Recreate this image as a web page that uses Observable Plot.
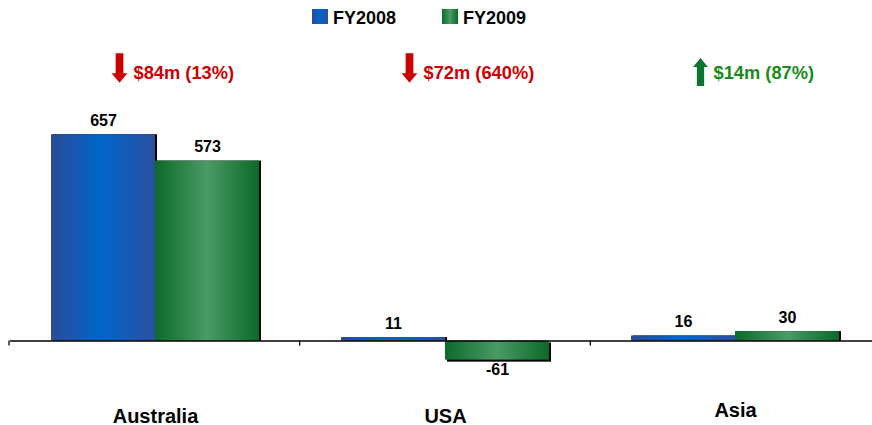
<!DOCTYPE html>
<html>
<head>
<meta charset="utf-8">
<script src="https://cdn.jsdelivr.net/npm/d3@7"></script>
<script src="https://cdn.jsdelivr.net/npm/@observablehq/plot@0.6"></script>
<style>
  html, body { margin: 0; padding: 0; background: #fff; overflow: hidden; }
  body { width: 872px; height: 425px; position: relative; font-family: "Liberation Sans", Arial, sans-serif; }
  #chart svg { max-width: none !important; display: block; }
  #legend { position: absolute; top: 9px; left: 312px; display: flex; align-items: flex-start; z-index: 2; }
  .sw { width: 16px; height: 15px; margin-right: 5px; }
  .lt { font-size: 18px; font-weight: bold; line-height: 18px; color: #000; }
</style>
</head>
<body>
<div id="legend"></div>
<div id="chart"></div>
<script>
// ---- data ----
const categories = ["Australia", "USA", "Asia"];
const series = ["FY2008", "FY2009"];
const fy2008 = [657, 11, 16];
const fy2009 = [573, -61, 30];
const changeText = ["$84m (13%)", "$72m (640%)", "$14m (87%)"];
const changeDir = ["down", "down", "up"];

const data = categories.flatMap((c, i) => [
  {cat: c, series: "FY2008", value: fy2008[i]},
  {cat: c, series: "FY2009", value: fy2009[i]}
]);
const pos = data.filter(d => d.value >= 0);
const neg = data.filter(d => d.value < 0);
const anno = categories.map((c, i) => ({cat: c, text: changeText[i], dir: changeDir[i]}));
const annoDown = anno.filter(d => d.dir === "down");
const annoUp = anno.filter(d => d.dir === "up");

// ---- legend ----
const legendColors = {
  FY2008: "linear-gradient(to right, #2b4a98, #0066cc 48%, #2b4fa0)",
  FY2009: "linear-gradient(to right, #0b6b2a, #4a9a66 50%, #0a6a28)"
};
const legend = document.getElementById("legend");
series.forEach((s, i) => {
  const sw = document.createElement("div");
  sw.className = "sw";
  sw.style.background = legendColors[s];
  const t = document.createElement("div");
  t.className = "lt";
  t.textContent = s;
  if (i === 0) t.style.marginRight = "46px";
  legend.appendChild(sw);
  legend.appendChild(t);
});

// ---- arrow symbols ----
function arrowSymbol(up) {
  const pts = [[-0.26, -1], [0.26, -1], [0.26, 0.36], [0.53, 0.36], [0, 1], [-0.53, 0.36], [-0.26, 0.36]];
  return {
    draw(ctx, size) {
      const r = Math.sqrt(size / Math.PI);
      pts.forEach(([x, y], k) => {
        const px = x * r, py = (up ? -y : y) * r;
        if (k === 0) ctx.moveTo(px, py); else ctx.lineTo(px, py);
      });
      ctx.closePath();
    }
  };
}

const W = 881, H = 425, mt = 120.7, mb = 37.4;
const font = {fontFamily: "Liberation Sans, Arial, sans-serif", fontWeight: "bold"};

const plot = Plot.plot({
  width: W, height: H,
  marginLeft: 9, marginRight: 0, marginTop: mt, marginBottom: mb,
  fx: {domain: categories, padding: 0, axis: null},
  x: {domain: series, paddingInner: 0, paddingOuter: 0.383, axis: null},
  y: {domain: [-150, 700], axis: null},
  color: {domain: series, range: ["url(#gBlue)", "url(#gGreen)"]},
  marks: [
    // shadows
    Plot.barY(pos, {fx: "cat", x: "series", y: "value", fill: "black", dx: 2}),
    Plot.barY(neg, {fx: "cat", x: "series", y: "value", fill: "black", dx: 2, dy: 2}),
    // bars
    Plot.barY(data, {fx: "cat", x: "series", y: "value", fill: "series"}),
    // baseline
    Plot.ruleY([0], {stroke: "black", strokeWidth: 1.3}),
    // value labels
    Plot.text(pos, {fx: "cat", x: "series", y: "value", text: d => String(d.value),
      lineAnchor: "bottom", dy: -9, fontSize: 16, ...font, fill: "black"}),
    Plot.text(neg, {fx: "cat", x: "series", y: "value", text: d => String(d.value),
      lineAnchor: "top", dy: 3, fontSize: 16, ...font, fill: "black"}),
    // change annotations
    Plot.dot(annoDown, {fx: "cat", frameAnchor: "top", symbol: arrowSymbol(false), r: 14.8,
      fill: "#cc0000", stroke: "none", dx: -36, dy: 67.5 - mt}),
    Plot.dot(annoUp, {fx: "cat", frameAnchor: "top", symbol: arrowSymbol(true), r: 14,
      fill: "#0a7430", stroke: "none", dx: -35, dy: 71.5 - mt}),
    Plot.text(annoDown, {fx: "cat", frameAnchor: "top", text: "text", textAnchor: "start",
      lineAnchor: "bottom", dx: -22, dy: 78.5 - mt, fontSize: 18.3, ...font, fill: "#cc0000"}),
    Plot.text(annoUp, {fx: "cat", frameAnchor: "top", text: "text", textAnchor: "start",
      lineAnchor: "bottom", dx: -22, dy: 78.5 - mt, fontSize: 18.3, ...font, fill: "#1a8a1a"}),
    // category labels
    Plot.text(categories.filter(c => c !== "Asia"), {fx: d => d, frameAnchor: "bottom", text: d => d,
      lineAnchor: "bottom", dy: 422 - (H - mb), fontSize: 20, ...font, fill: "black"}),
    Plot.text(categories.filter(c => c === "Asia"), {fx: d => d, frameAnchor: "bottom", text: d => d,
      lineAnchor: "bottom", dy: 416 - (H - mb), fontSize: 20, ...font, fill: "black"})
  ]
});

// gradients
const svg = d3.select(plot);
const defs = svg.insert("defs", ":first-child");
function grad(id, stops) {
  const g = defs.append("linearGradient").attr("id", id).attr("x1", "0").attr("x2", "1").attr("y1", "0").attr("y2", "0");
  stops.forEach(([o, c]) => g.append("stop").attr("offset", o).attr("stop-color", c));
}
grad("gBlue", [["0%", "#2b4a98"], ["48%", "#0066cc"], ["100%", "#2b4fa0"]]);
grad("gGreen", [["0%", "#0b6b2a"], ["50%", "#4a9a66"], ["100%", "#0a6a28"]]);

// ticks at the category boundaries of the baseline
const fxS = plot.scale("fx");
const yS = plot.scale("y");
const band = d3.scaleBand().domain(fxS.domain).range(fxS.range).padding(0);
const y0 = yS.apply ? yS.apply(0) : d3.scaleLinear().domain(yS.domain).range(yS.range)(0);
svg.append("g").selectAll("line").data(categories).join("line")
  .attr("x1", d => band(d)).attr("x2", d => band(d))
  .attr("y1", y0).attr("y2", y0 + 5)
  .attr("stroke", "black").attr("stroke-width", 1.3);

document.getElementById("chart").appendChild(plot);
</script>
</body>
</html>
